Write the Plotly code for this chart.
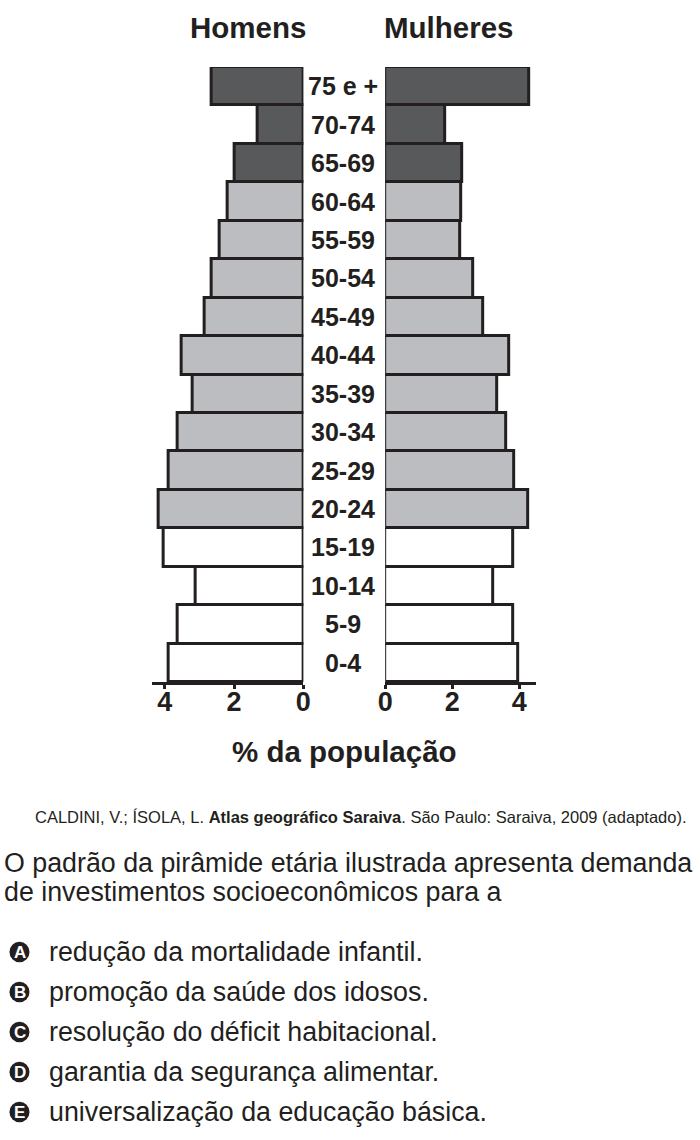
import plotly.graph_objects as go

# faixas etárias, de baixo para cima
ages = ["0-4", "5-9", "10-14", "15-19", "20-24", "25-29", "30-34", "35-39",
        "40-44", "45-49", "50-54", "55-59", "60-64", "65-69", "70-74", "75 e +"]
homens = [3.88, 3.63, 3.12, 4.02, 4.19, 3.88, 3.63, 3.19,
          3.52, 2.85, 2.64, 2.42, 2.19, 1.98, 1.33, 2.66]
mulheres = [3.96, 3.81, 3.23, 3.81, 4.28, 3.84, 3.60, 3.35,
            3.69, 2.92, 2.64, 2.25, 2.27, 2.30, 1.79, 4.31]
ticks = [0, 2, 4]

source = ("CALDINI, V.; ÍSOLA, L. <b>Atlas geográfico Saraiva</b>. "
          "São Paulo: Saraiva, 2009 (adaptado).")
question = ["O padrão da pirâmide etária ilustrada apresenta demanda",
            "de investimentos socioeconômicos para a"]
letters = ["A", "B", "C", "D", "E"]
options = ["redução da mortalidade infantil.",
           "promoção da saúde dos idosos.",
           "resolução do déficit habitacional.",
           "garantia da segurança alimentar.",
           "universalização da educação básica."]

W, H = 700, 1140
INK = "#231f20"
FONT = "Liberation Sans, Arial, sans-serif"


def px(x):
    return x / W


def py(y):
    return 1 - y / H


def bar_colors(n):
    cols = []
    for i in range(n):
        if i < 4:
            cols.append("#ffffff")
        elif i < 13:
            cols.append("#bcbdc0")
        else:
            cols.append("#58595b")
    return cols


fig = go.Figure()

fig.add_trace(go.Bar(
    y=ages, x=homens, orientation="h", xaxis="x", yaxis="y",
    marker=dict(color=bar_colors(len(ages)), line=dict(color=INK, width=3)),
    name="Homens", showlegend=False))

fig.add_trace(go.Bar(
    y=ages, x=mulheres, orientation="h", xaxis="x2", yaxis="y2",
    marker=dict(color=bar_colors(len(ages)), line=dict(color=INK, width=3)),
    name="Mulheres", showlegend=False))

axis_common = dict(
    tickvals=ticks, ticktext=[str(t) for t in ticks],
    showgrid=False, zeroline=False,
    showline=True, linecolor=INK, linewidth=3,
    ticks="outside", ticklen=4, tickwidth=3, tickcolor=INK,
    ticklabelstandoff=-10,
    tickfont=dict(family=FONT, size=27, color=INK, weight="bold"),
    fixedrange=True,
)
yaxis_common = dict(
    type="category", categoryorder="array", categoryarray=ages,
    range=[-0.5, len(ages) - 0.5],
    showticklabels=False, showgrid=False, zeroline=False, showline=False,
    ticks="", fixedrange=True,
    domain=[py(682), py(67)],
)

fig.update_layout(
    width=W, height=H,
    margin=dict(l=0, r=0, t=0, b=0),
    paper_bgcolor="white", plot_bgcolor="rgba(0,0,0,0)",
    bargap=0,
    xaxis=dict(axis_common, domain=[px(147), px(302.3)], range=[4.38, 0], anchor="y"),
    xaxis2=dict(axis_common, domain=[px(386), px(540)], range=[0, 4.49], anchor="y2"),
    yaxis=dict(yaxis_common, anchor="x"),
    yaxis2=dict(yaxis_common, anchor="x2"),
)

ann = []
# rótulos das faixas no centro
for a in ages:
    ann.append(dict(x=px(342.5), xref="paper", y=a, yref="y", text=a,
                    showarrow=False, xanchor="center", yanchor="middle",
                    font=dict(family=FONT, size=25, color=INK, weight="bold")))

ann.append(dict(x=px(245.5), y=py(28), text="Homens"))
ann.append(dict(x=px(451), y=py(28), text="Mulheres"))
ann.append(dict(x=px(344), y=py(751), text="% da população"))
for a in ann[-3:]:
    a.update(xref="paper", yref="paper", showarrow=False,
             xanchor="center", yanchor="middle",
             font=dict(family=FONT, size=29.5, color=INK, weight="bold"))

ann.append(dict(x=px(697), y=py(817), xref="paper", yref="paper", text=source,
                showarrow=False, xanchor="right", yanchor="middle",
                font=dict(family=FONT, size=16.5, color=INK)))

for i, line in enumerate(question):
    ann.append(dict(x=px(-6), y=py(863 + 29 * i), xref="paper", yref="paper",
                    text=line, showarrow=False, xanchor="left", yanchor="middle",
                    font=dict(family=FONT, size=26.8, color=INK)))

shapes = []
for i, (letter, opt) in enumerate(zip(letters, options)):
    cy = 952 + 40 * i
    shapes.append(dict(type="circle", xref="paper", yref="paper",
                       x0=px(1.5), x1=px(22), y0=py(cy + 10.25), y1=py(cy - 10.25),
                       fillcolor=INK, line=dict(width=0)))
    ann.append(dict(x=px(11.9), y=py(cy), xref="paper", yref="paper", text=letter,
                    showarrow=False, xanchor="center", yanchor="middle",
                    font=dict(family=FONT, size=17, color="white", weight="bold")))
    ann.append(dict(x=px(40), y=py(cy), xref="paper", yref="paper", text=opt,
                    showarrow=False, xanchor="left", yanchor="middle",
                    font=dict(family=FONT, size=26.8, color=INK)))

fig.update_layout(annotations=ann, shapes=shapes)

fig.write_html("out.html", config={"displayModeBar": False},
               post_script="document.body.style.margin = '0';")
